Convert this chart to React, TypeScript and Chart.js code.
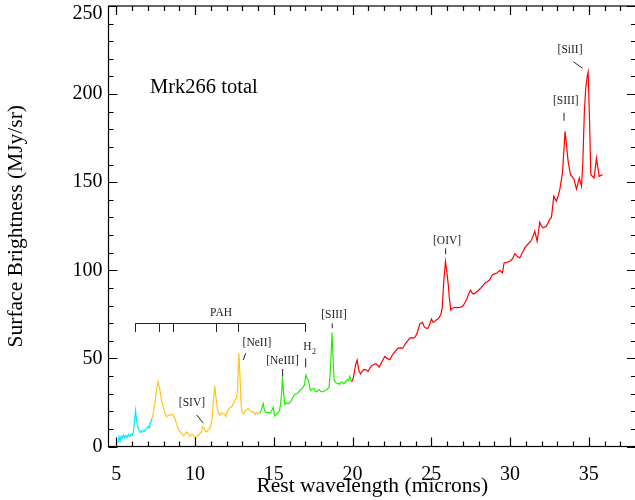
import React, { useEffect, useRef } from "react";
import { Chart, registerables } from "chart.js";

Chart.register(...registerables);

// ---- data (wavelength in microns, surface brightness in MJy/sr) ----
const CYAN_WL = [5.11, 5.17, 5.24, 5.3, 5.37, 5.45, 5.52, 5.6, 5.68, 5.76, 5.85, 5.93, 6.02, 6.1, 6.16, 6.22, 6.28, 6.35, 6.45, 6.56, 6.65, 6.77, 6.86, 6.94, 7.02, 7.08, 7.12, 7.2, 7.27];
const CYAN_FLUX = [2.2, 5.5, 3.2, 5.8, 4.5, 6.5, 4.8, 6.2, 5.0, 6.8, 5.6, 7.0, 6.3, 9.5, 15, 20.3, 15, 11.3, 9, 7.9, 9.2, 8.5, 10, 10.4, 11.3, 10.6, 13, 14, 15.9];

const ORANGE_WL = [7.27, 7.33, 7.45, 7.55, 7.65, 7.75, 7.85, 7.97, 8.08, 8.19, 8.3, 8.4, 8.57, 8.71, 8.82, 8.92, 9.03, 9.14, 9.25, 9.35, 9.45, 9.56, 9.67, 9.78, 9.88, 9.98, 10.09, 10.2, 10.3, 10.4, 10.48, 10.56, 10.65, 10.73, 10.84, 10.94, 11.02, 11.08, 11.17, 11.25, 11.32, 11.4, 11.48, 11.57, 11.68, 11.78, 11.86, 11.95, 12.02, 12.1, 12.2, 12.31, 12.42, 12.52, 12.63, 12.7, 12.78, 12.85, 12.92, 12.98, 13.08, 13.16, 13.26, 13.37, 13.48, 13.58, 13.69, 13.8, 13.9, 14.0, 14.1];
const ORANGE_FLUX = [15.9, 18.5, 25, 32, 36.8, 33, 27, 22.6, 19, 16.9, 17.5, 17.8, 18.2, 15.9, 13, 10.2, 8.5, 7.4, 6.2, 6.5, 8.3, 7.4, 5.7, 7.0, 6.5, 5.0, 5.7, 6.5, 7.4, 8.3, 11.2, 10.5, 8.8, 8.3, 9.5, 10.2, 13, 15.9, 27, 34.3, 28, 22.5, 19, 17.8, 19, 18.7, 18.5, 16.9, 19, 20.7, 22, 22.6, 24, 26.4, 27.3, 33, 52.9, 40, 24, 19.5, 18.5, 19.8, 20.7, 21.5, 20.5, 19.8, 19.7, 18.2, 19.2, 18.6, 18.9];

const GREEN_WL = [14.1, 14.22, 14.32, 14.4, 14.49, 14.6, 14.75, 14.85, 14.96, 15.06, 15.17, 15.27, 15.36, 15.43, 15.5, 15.55, 15.62, 15.7, 15.8, 15.91, 16.02, 16.12, 16.2, 16.27, 16.35, 16.44, 16.55, 16.65, 16.76, 16.86, 16.95, 17.03, 17.12, 17.2, 17.27, 17.33, 17.44, 17.54, 17.62, 17.7, 17.8, 17.88, 17.98, 18.1, 18.2, 18.3, 18.4, 18.51, 18.6, 18.7, 18.77, 18.83, 18.93, 19.04, 19.12, 19.19, 19.28, 19.36, 19.43, 19.5, 19.58, 19.66, 19.74, 19.82, 19.93];
const GREEN_FLUX = [18.9, 21.1, 24.5, 21, 19.3, 19.5, 18.9, 20, 22.3, 17.3, 18.5, 19.1, 20.5, 24.3, 31, 39.3, 30, 23.9, 24.8, 24.3, 25, 26.2, 27.5, 29.1, 29.5, 30.1, 30.5, 31.9, 32.5, 33.8, 35, 40.5, 38.5, 37.6, 34, 31.9, 32.5, 32.9, 31.5, 31, 31.8, 32.3, 31.2, 31, 31.5, 31.9, 32.5, 33.8, 45.2, 64.7, 48, 37.6, 36.5, 35.7, 35.8, 35.3, 36.5, 36.6, 35.5, 36, 37, 37.9, 37.5, 39.8, 36.6];

const RED_WL = [19.93, 20.04, 20.19, 20.29, 20.4, 20.5, 20.6, 20.71, 20.85, 20.99, 21.1, 21.2, 21.35, 21.48, 21.6, 21.69, 21.84, 21.95, 22.05, 22.2, 22.37, 22.5, 22.62, 22.76, 22.9, 23.05, 23.2, 23.38, 23.5, 23.63, 23.76, 23.89, 24.0, 24.1, 24.27, 24.44, 24.55, 24.65, 24.8, 24.9, 25.01, 25.12, 25.22, 25.33, 25.44, 25.54, 25.62, 25.69, 25.78, 25.9, 26.0, 26.07, 26.15, 26.24, 26.35, 26.48, 26.62, 26.8, 26.92, 27.01, 27.13, 27.24, 27.35, 27.49, 27.6, 27.7, 27.85, 27.98, 28.1, 28.29, 28.4, 28.55, 28.71, 28.88, 29.02, 29.17, 29.35, 29.52, 29.62, 29.8, 29.98, 30.1, 30.19, 30.3, 30.45, 30.62, 30.78, 30.94, 31.1, 31.32, 31.45, 31.57, 31.72, 31.89, 32.0, 32.1, 32.31, 32.52, 32.63, 32.78, 32.94, 33.05, 33.16, 33.33, 33.42, 33.5, 33.6, 33.69, 33.84, 34.05, 34.22, 34.4, 34.54, 34.62, 34.72, 34.81, 34.9, 34.96, 35.05, 35.13, 35.34, 35.49, 35.66, 35.87];
const RED_FLUX = [36.6, 38.6, 46.3, 49.1, 43, 41.2, 42.5, 43.7, 43.5, 42.6, 44.5, 45.8, 46.5, 47, 46, 45, 47.7, 49.5, 51.1, 50, 49.2, 51.5, 53, 54.5, 55.8, 56, 55.8, 58.7, 60, 61.5, 61.8, 61.5, 62.5, 64.4, 69.6, 70.4, 68, 67.2, 67.2, 69.5, 72.3, 70.4, 71, 71.9, 72.5, 73.8, 75.5, 78.5, 92, 105, 98, 92.6, 84, 77.4, 78.5, 79, 78.8, 79, 79.2, 79.7, 81.5, 83.5, 86, 88.8, 87, 86.5, 87.5, 88.5, 89.5, 91.5, 92.7, 93.5, 94.6, 97.5, 98, 98.5, 100, 98.5, 104.2, 104.5, 105.1, 106, 107, 109.5, 108, 107, 110, 112.7, 114.5, 116.5, 119, 122.2, 116.5, 127.3, 125, 124.1, 125, 128.9, 130, 142.1, 139.2, 142, 145.8, 155.3, 168, 178.9, 170, 161.8, 154.3, 151.9, 146.1, 152.3, 147.7, 160, 190, 203.5, 210, 212.5, 185, 154.3, 152.4, 163.7, 153.3, 154.3];

const X_TICKS = [5, 10, 15, 20, 25, 30, 35];
const Y_TICKS = [0, 50, 100, 150, 200, 250];

// ---- annotations (data coordinates) ----
const LINE_LABELS = [
  { text: "[SIV]", x: 9.8, y: 24.7 },
  { text: "[NeII]", x: 13.93, y: 58.6 },
  { text: "[NeIII]", x: 15.55, y: 48.7 },
  { text: "[SIII]", x: 18.82, y: 74.6 },
  { text: "[OIV]", x: 26.0, y: 116.8 },
  { text: "[SIII]", x: 33.54, y: 196.3 },
  { text: "[SiII]", x: 33.81, y: 225 },
];
const LINE_MARKS = [
  [10.1, 17.9, 10.52, 13.2],
  [13.21, 52.9, 13.06, 49.1],
  [15.56, 44.0, 15.56, 39.6],
  [17.02, 50.1, 17.02, 44.9],
  [18.71, 69.9, 18.71, 67.1],
  [25.91, 112.5, 25.91, 109.1],
  [33.43, 189.4, 33.43, 184.9],
  [34.02, 218.4, 34.61, 214.6],
];
const H2_LABEL = { x: 17.14, y: 56.6 };
const PAH_FEATURES = [6.2, 7.7, 8.6, 11.3, 12.7, 17.0];
const PAH_LEVEL = 69.9;
const PAH_TICK_END = 65.0;
const PAH_LABEL = { x: 11.65, y: 75.8 };
const TITLE_POS = { x: 7.14, y: 203.4 };

const SERIF = "'Liberation Serif', 'Times New Roman', Times, serif";

const toPts = (wl: number[], fl: number[]) => wl.map((x, i) => ({ x, y: fl[i] }));

const overlay = {
  id: "overlay",
  afterDraw(chart: any) {
    const { ctx, chartArea: a, scales } = chart;
    const xs = scales.x;
    const ys = scales.y;
    ctx.save();
    ctx.strokeStyle = "#000";
    ctx.fillStyle = "#000";
    ctx.lineWidth = 1.2;
    // frame
    ctx.strokeRect(a.left, a.top, a.right - a.left, a.bottom - a.top);
    // x ticks (inward, bottom and top)
    ctx.beginPath();
    for (let v = 5; v <= 38; v++) {
      const p = Math.round(xs.getPixelForValue(v)) + 0.5;
      const len = v % 5 === 0 ? 9 : 5;
      ctx.moveTo(p, a.bottom);
      ctx.lineTo(p, a.bottom - len);
      ctx.moveTo(p, a.top);
      ctx.lineTo(p, a.top + len);
    }
    // y ticks (inward, left and right)
    for (let v = 0; v <= 250; v += 10) {
      const p = Math.round(ys.getPixelForValue(v)) + 0.5;
      const len = v % 50 === 0 ? 9 : 5;
      ctx.moveTo(a.left, p);
      ctx.lineTo(a.left + len, p);
      ctx.moveTo(a.right, p);
      ctx.lineTo(a.right - len, p);
    }
    ctx.stroke();
    // y tick labels
    ctx.font = `20px ${SERIF}`;
    ctx.textAlign = "right";
    ctx.textBaseline = "middle";
    for (const v of Y_TICKS) {
      const p = Math.max(ys.getPixelForValue(v), a.top + 8);
      ctx.fillText(String(v), a.left - 6, p);
    }
    // title text
    ctx.font = `20.5px ${SERIF}`;
    ctx.textAlign = "left";
    ctx.fillText("Mrk266 total", xs.getPixelForValue(TITLE_POS.x), ys.getPixelForValue(TITLE_POS.y));
    // line labels
    ctx.fillStyle = "#222";
    ctx.strokeStyle = "#222";
    ctx.font = `11.5px ${SERIF}`;
    ctx.textAlign = "center";
    for (const l of LINE_LABELS) {
      ctx.fillText(l.text, xs.getPixelForValue(l.x), ys.getPixelForValue(l.y));
    }
    // H2
    const hx = xs.getPixelForValue(H2_LABEL.x);
    const hy = ys.getPixelForValue(H2_LABEL.y);
    ctx.textAlign = "right";
    ctx.fillText("H", hx + 4, hy);
    ctx.font = `8px ${SERIF}`;
    ctx.textAlign = "left";
    ctx.fillText("2", hx + 4.5, hy + 5);
    // marks
    ctx.lineWidth = 1;
    ctx.beginPath();
    for (const m of LINE_MARKS) {
      ctx.moveTo(xs.getPixelForValue(m[0]), ys.getPixelForValue(m[1]));
      ctx.lineTo(xs.getPixelForValue(m[2]), ys.getPixelForValue(m[3]));
    }
    // PAH bracket
    const py = Math.round(ys.getPixelForValue(PAH_LEVEL)) + 0.5;
    const pyEnd = ys.getPixelForValue(PAH_TICK_END);
    ctx.moveTo(xs.getPixelForValue(PAH_FEATURES[0]), py);
    ctx.lineTo(xs.getPixelForValue(PAH_FEATURES[PAH_FEATURES.length - 1]), py);
    for (const f of PAH_FEATURES) {
      const fx = Math.round(xs.getPixelForValue(f)) + 0.5;
      ctx.moveTo(fx, py);
      ctx.lineTo(fx, pyEnd);
    }
    ctx.stroke();
    ctx.font = `11.5px ${SERIF}`;
    ctx.textAlign = "center";
    ctx.fillText("PAH", xs.getPixelForValue(PAH_LABEL.x), ys.getPixelForValue(PAH_LABEL.y));
    ctx.restore();
  },
};

export default function App() {
  const ref = useRef<HTMLCanvasElement | null>(null);
  useEffect(() => {
    if (!ref.current) return;
    const mk = (wl: number[], fl: number[], color: string) => ({
      data: toPts(wl, fl),
      borderColor: color,
      backgroundColor: color,
      borderWidth: 1.2,
      pointRadius: 0,
      tension: 0,
      fill: false,
    });
    const chart = new Chart(ref.current, {
      type: "line",
      data: {
        datasets: [
          mk(CYAN_WL, CYAN_FLUX, "#00E8F2"),
          mk(ORANGE_WL, ORANGE_FLUX, "#FFC51A"),
          mk(GREEN_WL, GREEN_FLUX, "#22EE00"),
          mk(RED_WL, RED_FLUX, "#FF0000"),
        ],
      },
      options: {
        animation: false,
        responsive: false,
        devicePixelRatio: 1,
        layout: { padding: { left: 0, top: 6, right: 1, bottom: 0 } },
        plugins: { legend: { display: false }, tooltip: { enabled: false } },
        scales: {
          x: {
            type: "linear",
            min: 4.5,
            max: 38,
            grid: { display: false },
            border: { display: false },
            ticks: { font: { family: SERIF, size: 20 }, color: "#000", padding: 8, autoSkip: false, maxRotation: 0 },
            afterBuildTicks: (s: any) => {
              s.ticks = X_TICKS.map((v) => ({ value: v }));
            },
            afterFit: (s: any) => {
              s.height = 53.5;
              s.paddingLeft = 0;
              s.paddingRight = 0;
            },
            title: {
              display: true,
              text: "Rest wavelength (microns)",
              font: { family: SERIF, size: 21.5 },
              color: "#000",
              padding: { top: 0, bottom: 1 },
            },
          },
          y: {
            type: "linear",
            min: 0,
            max: 250,
            grid: { display: false },
            border: { display: false },
            ticks: { display: false },
            afterFit: (s: any) => {
              s.width = 108.5;
              s.paddingTop = 0;
              s.paddingBottom = 0;
            },
            title: {
              display: true,
              text: "Surface Brightness (MJy/sr)",
              font: { family: SERIF, size: 21.5 },
              color: "#000",
              padding: { top: 3, bottom: 0 },
            },
          },
        },
      },
      plugins: [overlay],
    } as any);
    return () => chart.destroy();
  }, []);
  return (
    <div style={{ position: "absolute", left: 0, top: 0, width: 635, height: 500, overflow: "hidden", background: "#fff" }}>
      <canvas ref={ref} width={637} height={500} style={{ display: "block" }} />
    </div>
  );
}
